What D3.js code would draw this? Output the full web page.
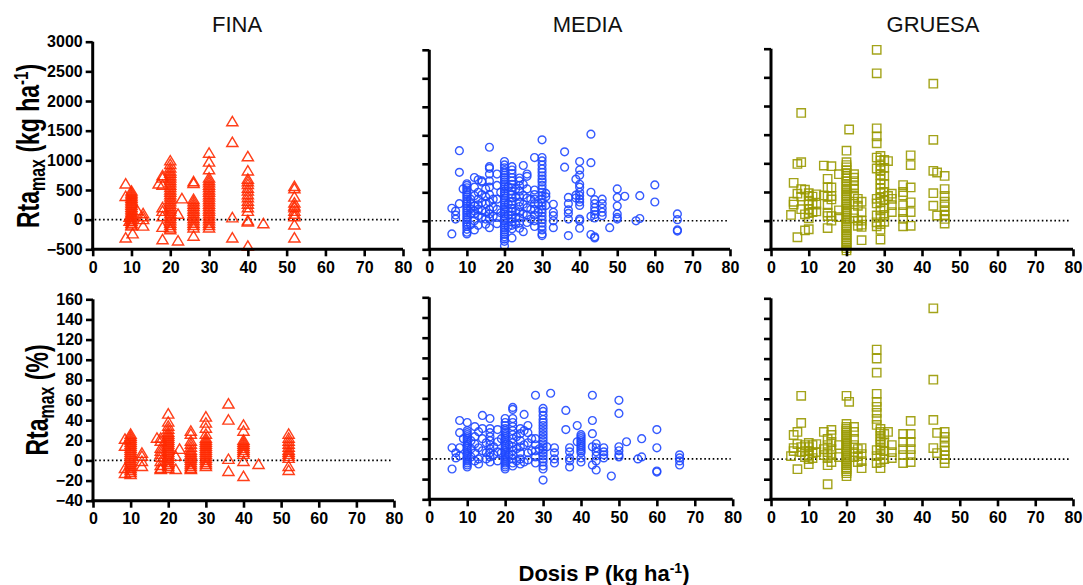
<!DOCTYPE html>
<html><head><meta charset="utf-8">
<script src="https://cdn.jsdelivr.net/npm/d3@7/dist/d3.min.js"></script>
<style>
body{margin:0;background:#fff}
svg{display:block}
text{font-family:Arial,"Liberation Sans",Helvetica,sans-serif}
</style>
</head><body>
<svg id="chart" width="1083" height="585"></svg>
<script>
// ---------- data (dose kg P/ha, [responses]) ----------
const textures = ["FINA", "MEDIA", "GRUESA"];
const xTicks = [0, 10, 20, 30, 40, 50, 60, 70, 80];
const yTicksKg = [-500, 0, 500, 1000, 1500, 2000, 2500, 3000];
const yTicksPct = [-40, -20, 0, 20, 40, 60, 80, 100, 120, 140, 160];

const finaKg = [
  [8.5, [600, 390, -310]], [9.5, [40, -30]],
  [10, [480, 450, 420, 390, 360, 330, 300, 270, 240, 210, 180, 150, 120, 90, 60, 30, 0, -30, -60, -90, -110]],
  [10.3, [-240]], [11.5, [150]], [13, [100, 50, 0, -110]], [17, [600]],
  [18, [740, 700, 580, 200, 140, 50, -130, -340]],
  [20, [990, 930, 870, 820, 780, 740, 700, 660, 620, 580, 540, 500, 460, 420, 380, 340, 300, 260, 220, 180, 140, 100, 60, 20, -20, -60, -100, -140, -170]],
  [22, [90, -360]], [23, [350]],
  [26, [640, 610, 340, 300, 260, 220, 180, 140, 100, 60, 20, -20, -60, -100, -140, -280]],
  [30, [1120, 970, 840, 700, 660, 620, 580, 540, 500, 460, 420, 380, 340, 300, 260, 220, 180, 140, 100, 60, 20, -20, -60, -100, -140]],
  [36, [1650, 1300, 30, -310]],
  [40, [1060, 820, 680, 640, 590, 530, 480, 420, 370, 310, 260, 200, 140, -20, -40, -450]],
  [44, [-70]],
  [52, [560, 520, 380, 280, 230, 200, 140, 90, 50, -90, -310]]
];
const finaPct = [
  [8.5, [21, 14, -8, -13]],
  [10, [26, 24, 22, 20, 18, 16, 14, 12, 10, 8, 6, 4, 2, 0, -2, -4, -6, -8, -10, -12, -14]],
  [13, [7, 4, -1, -6]], [17, [22]],
  [18, [22, 19, 12, 9, 6, 3, -1, -5, -8, -9]],
  [20, [46, 38, 34, 31, 28, 26, 24, 22, 20, 18, 16, 14, 12, 10, 8, 6, 4, 2, 0, -2, -4, -6, -8]],
  [22, [4, -9]], [23, [11]],
  [26, [29, 26, 19, 16, 13, 10, 8, 6, 4, 2, 0, -2, -4, -6, -8, -9]],
  [30, [43, 37, 32, 26, 22, 20, 18, 16, 14, 12, 10, 8, 6, 4, 2, 0, -2, -4, -6]],
  [36, [56, 40, 1, -11]],
  [40, [35, 29, 20, 18, 16, 14, 12, 10, 8, 6, -1, -16]],
  [44, [-4]],
  [52, [26, 22, 19, 16, 13, 10, 8, 6, 4, 2, -6, -10]]
];
const mediaKg = [
  [6, [220, -230]], [7, [170, 100, 30]], [8, [1230, 850, 300]], [9, [560]],
  [10, [650, 620, 580, 540, 500, 460, 420, 380, 340, 300, 260, 220, 180, 140, 100, 60, 20, -20, -60, -100, -150, -200, -230]],
  [11, [380, 300, 210, 130, -70]], [12, [760, 590, 440, 260, 170, 120, 0, -160]],
  [13, [720, 500, 380, 280, 200, 90, -80]], [14, [700, 680, 460, 320, 180, 60]],
  [15, [560, 420, 300, 150, 30, -60]],
  [16, [1290, 950, 920, 820, 700, 590, 460, 330, 200, 120, 40, -120]],
  [17, [380, 240, 80]], [18, [820, 620, 380, 200, 60, -50]], [19, [500, 140]],
  [20, [1040, 980, 930, 880, 840, 800, 760, 720, 680, 640, 600, 560, 520, 480, 440, 400, 360, 320, 280, 240, 200, 160, 120, 80, 40, 0, -40, -80, -120, -160, -200, -240, -280, -320, -360, -440]],
  [21, [600, 300, 100, -100]],
  [22, [950, 890, 830, 760, 700, 640, 580, 520, 460, 400, 340, 280, 220, 160, 100, 40, -20, -80, -140, -300]],
  [23, [560, 420, 180, 60, -60]], [24, [750, 700, 620, 520, 430, 330, 250, 150, 50, -40, -130]],
  [25, [970, 640, 450, 290, 120, -190]], [26, [820, 780, 560, 400, 230, 100, -30]],
  [27, [380, 200, 30]], [28, [1110, 540, 460, 380, 300, 200, 100, 0, -100]], [29, [300, 150]],
  [30, [1420, 1110, 1050, 980, 910, 850, 790, 730, 680, 620, 560, 500, 440, 380, 320, 260, 200, 140, 80, 20, -40, -100, -160, -230, -260]],
  [31, [480, 420, 270]], [33, [290, 150, 90, 0, -120]], [36, [1210, 940]],
  [37, [410, 300, 190, 130, 30, -260]], [39, [730, 450, 400]],
  [40, [1040, 890, 800, 640, 590, 500, 440, 380, 330, 270, 30, 0, -130]],
  [43, [1520, 1020, 500, 80, -240]], [44, [370, 300, 230, 170, 110, 50, -280, -300]],
  [46, [380, 300, 220, 150, 90]], [48, [-120]], [50, [560, 410, 260, 120, 60, 30]],
  [52, [430]], [55, [0]], [56, [440, 40]], [60, [630, 330]], [66, [120, 20, -160, -180]]
];
const mediaPct = [
  [6, [11, -10]], [7, [6, 1]], [8, [38, 26, 11, 3]], [9, [20]],
  [10, [36, 28, 26, 24, 22, 20, 18, 16, 14, 12, 10, 8, 6, 4, 2, 0, -2, -4, -6, -8]],
  [11, [18, 10, 2]], [12, [32, 22, 15, 6, -2]], [13, [27, 11, 0, -5]], [14, [43, 30, 20, 8]],
  [15, [16, 6, 0]], [16, [40, 30, 26, 22, 18, 14, 10, 6, 2, -3]], [17, [12, 4]],
  [18, [29, 17, 7, -2]], [19, [20, 6]],
  [20, [40, 36, 33, 30, 28, 26, 24, 22, 20, 18, 16, 14, 12, 10, 8, 6, 4, 2, 0, -2, -4, -6, -8, -10]],
  [21, [14, 4]], [22, [51, 49, 40, 36, 32, 28, 24, 20, 16, 12, 8, 4, 0, -4, -7]],
  [23, [22, 10, -2]], [24, [30, 25, 18, 12, 6, 0, -5]], [25, [44, 28, 14, -3]],
  [26, [33, 26, 16, 6, -1]], [27, [20, 8]], [28, [63, 20, 14, 8, 2, -4]], [29, [10]],
  [30, [50, 47, 43, 39, 36, 33, 30, 27, 24, 21, 18, 15, 12, 9, 6, 3, 0, -3, -7, -10, -21]],
  [31, [12]], [32, [65]], [33, [11, 6, 0, -4]], [36, [48, 29]], [37, [11, 7, 1, -2, -8]],
  [39, [33, 17]], [40, [24, 22, 20, 18, 16, 14, 12, 10, 8, 6, 1, -3]],
  [43, [63, 38, 25, 12, -6]], [44, [15, 11, 7, 3, -2, -11]], [46, [11, 7, 4, 1]],
  [48, [-17]], [50, [58, 45, 12, 8, 4, 2]], [52, [17]], [55, [0]], [56, [20, 2]],
  [60, [29, 11, -12, -13]], [66, [4, 1, -2, -6]]
];
const gruesaKg = [
  [5.3, [100]], [6, [660, 330, 280]], [7, [990, 470, -290]], [8, [1880, 1020, 550, 420, 200]],
  [9, [540, 110, -170]], [10, [480, 430, 350, 280, 200, 130, 40, -150]], [11, [420, 300, 150]],
  [12, [460, 280, 160]], [14, [960, 440]], [15, [730, 580, 420, 270, 140, 80, -130]],
  [16, [950, 580, 430, 370, 80, 0]], [18, [810, 180, 60]],
  [20, [1220, 1020, 970, 930, 880, 830, 780, 740, 690, 640, 600, 560, 520, 480, 440, 400, 360, 320, 280, 240, 200, 160, 120, 80, 40, 0, -40, -80, -120, -160, -200, -240, -280, -320, -360, -400, -440, -480, -520]],
  [20.7, [1590]], [22, [810, 750, 690, 620, 560, 440, 330, 140, 40]],
  [23, [380, 260, 0, -90]], [24, [330, 150, 0, -70, -110, -340]],
  [28, [2980, 2570, 1610, 1470, 1350, 1100, 910, 380, 300, 90, -30, -100]],
  [29, [1130, 1050, 960, 880, 800, 720, 640, 560, 480, 400, 320, 180, 60, -60, -160, -330]],
  [30, [1060, 920, 780, 640, 500, 360, 220, 100, -20]], [31, [1040, 430]],
  [32, [470, 380, 270, 150]], [35, [620, 500, 440, 270, 150, 30, -100]],
  [37, [1140, 970, 580, 320, 150, -90]], [43, [2390, 1410, 870, 480, 260]], [44, [840, 90]],
  [46, [780, 550, 430, 330, 250, 160, 90, 30, -50]]
];
const gruesaPct = [
  [5.3, [3]], [6, [24, 11, 8]], [7, [27, 15, -10]], [8, [63, 36, 12, 7]], [9, [14, 8, 2]],
  [10, [16, 12, 8, 4, 0, -5]], [11, [14, 6, 1]], [12, [15, 7]], [14, [27, 10, 4]],
  [15, [20, 14, 7, 1, -6, -25]], [16, [29, 24, 17, 10, 4, -3]], [18, [14, 2]],
  [20, [63, 35, 32, 30, 28, 26, 24, 22, 20, 18, 16, 14, 12, 10, 8, 6, 4, 2, 0, -2, -4, -6, -8, -10, -12, -14, -17]],
  [20.7, [57]], [22, [32, 27, 20, 14, 7, 2]], [23, [10, 3, -3]], [24, [11, 5, -2, -9]],
  [28, [109, 100, 86, 65, 57, 52, 46, 40, 34, 9, 3, -4]],
  [29, [30, 27, 23, 20, 17, 14, 10, 4, -3, -9]], [30, [25, 16, 8, 0]], [31, [27]],
  [32, [14, 7, 1]], [35, [25, 17, 10, 4, -4]], [37, [38, 25, 17, 10, 4, -3]],
  [43, [150, 79, 39, 11]], [44, [26, 6]], [46, [27, 22, 17, 12, 8, 4, 0, -4]]
];

// ---------- layout ----------
const colors = ["#ff2a00", "#1f48ff", "#999900"];
const shapes = ["triangle", "circle", "square"];
const panels = [
  {row: 0, col: 0, data: finaKg,   dom: [-500, 3000], ticks: yTicksKg,  x0: 92.7, x1: 403,   yT: 41.7, yB: 249.3},
  {row: 0, col: 1, data: mediaKg,  dom: [-500, 3000], ticks: yTicksKg,  x0: 429.3, x1: 730,  yT: 49.8, yB: 249.3},
  {row: 0, col: 2, data: gruesaKg, dom: [-500, 3000], ticks: yTicksKg,  x0: 771,  x1: 1073,  yT: 48.7, yB: 249.3},
  {row: 1, col: 0, data: finaPct,  dom: [-40, 160],   ticks: yTicksPct, x0: 93,   x1: 394,   yT: 299.3, yB: 500.7},
  {row: 1, col: 1, data: mediaPct, dom: [-40, 160],   ticks: yTicksPct, x0: 429.3, x1: 732.7, yT: 297.3, yB: 499.3},
  {row: 1, col: 2, data: gruesaPct,dom: [-40, 160],   ticks: yTicksPct, x0: 771,  x1: 1073,  yT: 298.3, yB: 499.3}
];
const titleX = [237, 587.5, 933];

const svg = d3.select("#chart");

function markerPath(shape) {
  if (shape === "triangle") return "M0,-5.4L5.6,4L-5.6,4Z";
  if (shape === "square") return "M-4.2,-4.2H4.2V4.2H-4.2Z";
  return d3.symbol(d3.symbolCircle, Math.PI * 3.9 * 3.9)();
}

panels.forEach(p => {
  const x = d3.scaleLinear().domain([0, 80]).range([p.x0, p.x1]);
  const y = d3.scaleLinear().domain(p.dom).range([p.yB, p.yT]);
  const g = svg.append("g");

  // zero reference line
  g.append("line")
    .attr("x1", x(0) + 2).attr("x2", x(80) - 2)
    .attr("y1", y(0)).attr("y2", y(0))
    .attr("stroke", "#000").attr("stroke-width", 1.6)
    .attr("stroke-dasharray", "1.6,2.6");

  // points
  const pts = [];
  p.data.forEach(([dose, vals]) => vals.forEach(v => pts.push([dose, v])));
  g.append("g").selectAll("path").data(pts).join("path")
    .attr("d", markerPath(shapes[p.col]))
    .attr("transform", d => `translate(${x(d[0])},${y(d[1])})`)
    .attr("fill", "none")
    .attr("stroke", colors[p.col])
    .attr("stroke-width", 1.4)
    .attr("stroke-opacity", 0.9);

  // axes
  const xa = g.append("g").attr("transform", `translate(0,${p.yB})`)
    .call(d3.axisBottom(x).tickValues(xTicks).tickSize(7).tickSizeOuter(0).tickPadding(5));
  const ya = g.append("g").attr("transform", `translate(${p.x0},0)`)
    .call(d3.axisLeft(y).tickValues(p.ticks).tickSize(7).tickSizeOuter(0).tickPadding(3)
      .tickFormat(p.col === 0 ? d3.format("d") : () => ""));
  [xa, ya].forEach(a => {
    a.attr("font-size", null).attr("font-family", null);
    a.select(".domain").attr("stroke", "#000").attr("stroke-width", 3);
    a.selectAll(".tick line").attr("stroke", "#000").attr("stroke-width", 2.6);
    a.selectAll(".tick text").attr("fill", "#000")
      .style("font-size", "16px").style("font-weight", "bold")
      .style("font-family", "Arial, 'Liberation Sans', sans-serif");
  });
  xa.select(".domain").attr("d", `M${p.x0 - 1.5},0H${p.x1}`);
  ya.select(".domain").attr("d", `M0,${p.yT}V${p.yB}`);

  if (p.row === 0) {
    svg.append("text").attr("x", titleX[p.col]).attr("y", 32.3)
      .attr("text-anchor", "middle").style("font-size", "22px").attr("fill", "#111")
      .text(textures[p.col]);
  }
});

// y-axis titles
function yTitle(cx, cy, parts) {
  const t = svg.append("text")
    .attr("transform", `translate(${cx},${cy}) rotate(-90) scale(1,1.4)`)
    .attr("text-anchor", "middle")
    .style("font-weight", "bold").style("font-size", "23px").attr("fill", "#000");
  parts.forEach(pt => t.append("tspan").attr("dy", pt.dy).style("font-size", pt.size + "px").text(pt.t));
}
yTitle(39, 146, [
  {t: "Rta", size: 23, dy: 0}, {t: "max", size: 16, dy: 4},
  {t: " (kg ha", size: 23, dy: -4}, {t: "-1", size: 15, dy: -8}, {t: ")", size: 23, dy: 8}
]);
yTitle(48, 400, [
  {t: "Rta", size: 23, dy: 0}, {t: "max", size: 16, dy: 4},
  {t: " (%)", size: 23, dy: -4}
]);

// x-axis title
const xt = svg.append("text").attr("x", 604).attr("y", 581)
  .attr("text-anchor", "middle").style("font-weight", "bold").style("font-size", "22px").attr("fill", "#000");
xt.append("tspan").text("Dosis P (kg ha");
xt.append("tspan").attr("dy", -8).style("font-size", "14px").text("-1");
xt.append("tspan").attr("dy", 8).text(")");
</script>
</body></html>
